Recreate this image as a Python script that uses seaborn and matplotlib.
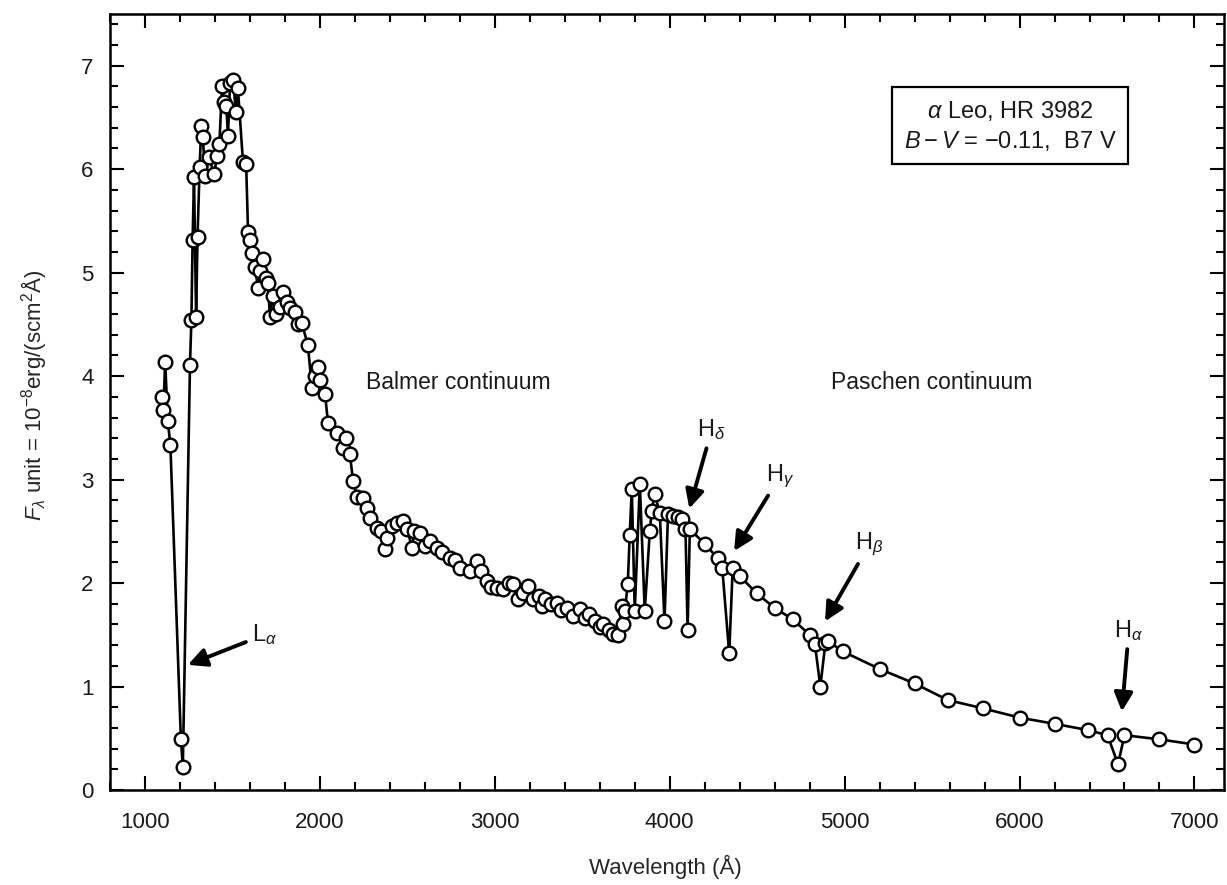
import matplotlib
matplotlib.use("Agg")
import matplotlib.pyplot as plt
import seaborn as sns
import pandas as pd

# ---------------- data ----------------
wavelength = [
    1095, 1105, 1115, 1130, 1145, 1205, 1216,
    1257, 1265, 1272, 1280, 1292, 1300, 1312, 1322, 1330, 1345, 1365, 1395,
    1412, 1425, 1440, 1452, 1465, 1474, 1486, 1503, 1520, 1531, 1560, 1578,
    1589, 1600, 1611, 1629, 1646, 1660, 1674, 1690, 1703, 1714, 1731, 1750,
    1771, 1789, 1810, 1829, 1857, 1875, 1897, 1931, 1954, 1970, 1989, 2000,
    2029, 2046, 2097, 2131, 2150, 2171, 2189, 2211, 2246, 2269, 2286, 2326,
    2350, 2371, 2383, 2410, 2440, 2474, 2500, 2526, 2540, 2571, 2600, 2629,
    2669, 2700, 2743, 2770, 2800, 2857, 2897, 2920, 2954, 2980, 3011,
    3046, 3080, 3103, 3131, 3160, 3189, 3217, 3250, 3269, 3286, 3320, 3354,
    3380, 3411, 3446, 3486, 3514, 3540, 3571, 3600, 3617, 3650, 3674, 3703,
    3726, 3731, 3743, 3760, 3771, 3783, 3800, 3829, 3857, 3886, 3897, 3914,
    3943, 3970, 3990, 4017, 4045, 4069, 4090, 4102, 4115, 4200, 4274, 4300,
    4340, 4360, 4400, 4497, 4600, 4703, 4800, 4830, 4861, 4890, 4905, 4989,
    5200, 5400, 5589, 5789, 6000, 6200, 6389, 6503, 6563, 6600, 6800, 7000,
]
flux = [
    3.80, 3.67, 4.14, 3.57, 3.33, 0.49, 0.22,
    4.11, 4.54, 5.32, 5.92, 4.57, 5.34, 6.02, 6.42, 6.31, 5.93, 6.12, 5.95,
    6.13, 6.24, 6.80, 6.65, 6.61, 6.32, 6.83, 6.86, 6.55, 6.78, 6.07, 6.05,
    5.39, 5.32, 5.19, 5.05, 4.85, 5.02, 5.13, 4.95, 4.90, 4.57, 4.77, 4.60,
    4.67, 4.81, 4.72, 4.66, 4.62, 4.50, 4.51, 4.30, 3.89, 4.00, 4.09, 3.96,
    3.83, 3.55, 3.45, 3.31, 3.40, 3.25, 2.99, 2.83, 2.82, 2.73, 2.63, 2.53,
    2.50, 2.33, 2.44, 2.55, 2.58, 2.60, 2.52, 2.34, 2.50, 2.48, 2.36, 2.41,
    2.34, 2.30, 2.24, 2.22, 2.15, 2.12, 2.21, 2.12, 2.02, 1.96, 1.95,
    1.94, 2.00, 1.99, 1.85, 1.90, 1.97, 1.85, 1.88, 1.78, 1.85, 1.80, 1.81,
    1.74, 1.76, 1.68, 1.75, 1.66, 1.70, 1.63, 1.58, 1.60, 1.55, 1.51, 1.50,
    1.78, 1.60, 1.73, 1.99, 2.46, 2.91, 1.73, 2.96, 1.73, 2.50, 2.70, 2.86,
    2.68, 1.63, 2.67, 2.65, 2.64, 2.62, 2.52, 1.55, 2.52, 2.38, 2.24, 2.15,
    1.32, 2.15, 2.07, 1.90, 1.76, 1.65, 1.50, 1.41, 1.00, 1.42, 1.44, 1.34,
    1.17, 1.03, 0.87, 0.79, 0.70, 0.64, 0.58, 0.53, 0.25, 0.53, 0.49, 0.44,
]

x_ticks = [1000, 2000, 3000, 4000, 5000, 6000, 7000]
y_ticks = [0, 1, 2, 3, 4, 5, 6, 7]

line_labels = ["L$_\\alpha$", "H$_\\delta$", "H$_\\gamma$", "H$_\\beta$", "H$_\\alpha$"]
region_labels = ["Balmer continuum", "Paschen continuum"]
star_info = ["$\\alpha$ Leo, HR 3982", "$B-V$ = \u22120.11,  B7 V"]

df = pd.DataFrame({"wavelength": wavelength, "flux": flux})

# ---------------- style ----------------
sns.set_theme(style="ticks")
plt.rcParams["font.family"] = ["Liberation Sans", "DejaVu Sans"]
plt.rcParams["mathtext.fontset"] = "custom"
plt.rcParams["mathtext.rm"] = "Liberation Sans"
plt.rcParams["mathtext.it"] = "Liberation Sans:italic"
plt.rcParams["mathtext.bf"] = "Liberation Sans:bold"
plt.rcParams["text.color"] = "#1a1a1a"

fig = plt.figure(figsize=(12.27, 8.85), dpi=100)
ax = fig.add_axes([0.0897, 0.1073, 0.9080, 0.8769])

sns.lineplot(data=df, x="wavelength", y="flux", sort=False, estimator=None,
             color="black", linewidth=1.9, marker="o", markersize=9.8,
             markerfacecolor="white", markeredgecolor="black",
             markeredgewidth=1.7, ax=ax)

ax.set_xlim(800, 7170)
ax.set_ylim(0, 7.5)
ax.set_xticks(x_ticks)
ax.set_yticks(y_ticks)
ax.set_xticklabels([str(v) for v in x_ticks])
ax.set_yticklabels([str(v) for v in y_ticks])
ax.xaxis.set_minor_locator(matplotlib.ticker.MultipleLocator(200))
ax.yaxis.set_minor_locator(matplotlib.ticker.MultipleLocator(0.2))
ax.tick_params(which="both", direction="in", top=True, right=True,
               color="black", width=1.5)
ax.tick_params(which="major", length=10)
ax.tick_params(which="minor", length=6)
ax.tick_params(axis="both", which="major", labelsize=16, labelcolor="#1a1a1a")
ax.tick_params(axis="x", which="major", pad=16)
ax.tick_params(axis="y", which="major", pad=12)
for s in ax.spines.values():
    s.set_linewidth(1.8)
    s.set_color("black")

ax.set_xlabel("Wavelength (\u00c5)", fontsize=16)
ax.set_ylabel("$F_{\\lambda}$ unit = 10$^{-8}$erg/(scm$^2$\u00c5)", fontsize=16)
ax.xaxis.set_label_coords(0.498, -0.084)
ax.yaxis.set_label_coords(-0.055, 0.509)

# region labels
ax.text(2790, 3.94, region_labels[0], fontsize=16.5, ha="center", va="center")
ax.text(5500, 3.94, region_labels[1], fontsize=16.5, ha="center", va="center")

# star info box
ax.text(5945, 6.42, "\n".join(star_info), fontsize=17, ha="center",
        va="center", linespacing=1.3,
        bbox=dict(boxstyle="square,pad=0.5", fc="white", ec="black", lw=1.6))

# line annotations: (label, text pos, arrow head)
ann = [
    (line_labels[0], (1610, 1.38), (1245, 1.21), "left"),
    (line_labels[1], (4240, 3.36), (4112, 2.72), "center"),
    (line_labels[2], (4630, 2.90), (4368, 2.31), "center"),
    (line_labels[3], (5140, 2.24), (4888, 1.63), "center"),
    (line_labels[4], (6625, 1.42), (6585, 0.76), "center"),
]
for lab, tpos, hpos, ha in ann:
    ax.annotate(lab, xy=hpos, xytext=tpos, fontsize=17, ha=ha, va="bottom",
                arrowprops=dict(arrowstyle="-|>", color="black", lw=2.8,
                                mutation_scale=28, shrinkA=2, shrinkB=0))

fig.savefig("out.png", dpi=100)
